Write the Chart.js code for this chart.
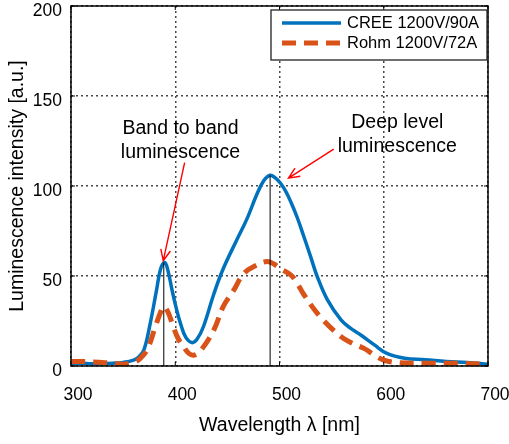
<!DOCTYPE html>
<html><head><meta charset="utf-8">
<script src="https://cdn.jsdelivr.net/npm/chart.js@4"></script>
<style>html,body{margin:0;padding:0;background:#fff}</style>
</head><body>
<canvas id="c" width="509" height="444"></canvas>
<script>
// ---- data ----
const creeWavelengths = [300,310,320,330,340,350,360,365,370,376,382,386,390,393,397,401,405,410,416,421,427,437,446,459,469,478,485,491,496,501,506,511,517,523,530,536,546,559,568,578,591,603,620,640,660,680,700];
const creeValues      = [1.5,1.5,1.2,1.2,1.5,2,3.3,5,9,23.7,42,54,57.5,53,42,32,23.7,16,13,15,21.8,40,54,70,82,95,103,106,104.5,101.5,97,91,82.5,72.5,60.5,50,36.7,25.6,21,17.2,11.7,7,4.3,3.5,2.5,2,1];
const rohmWavelengths = [300,310,320,330,340,350,360,366,373,381,386,389,393,398,403,408,413,418,425,437,446,456,466,478,488,495,501,511,517,523,539,559,570,581,590,600,615,640,670,700];
const rohmValues      = [2.5,2.5,2.3,2,1.5,1,2,4,9,22,30,33,30,22,15,10.7,7,6,9,20,33,42,51.5,56,58,56.5,54,50.5,46,40,27.4,16.3,12.5,9.8,6.5,3.3,1.8,1.5,1.5,1];
const peakWavelengths = [389, 491];
const peakValues = [57.5, 106];
const xTicks = [300,400,500,600,700];
const yTicks = [0,50,100,150,200];
const seriesLabels = ['CREE 1200V/90A','Rohm 1200V/72A'];
const annotationTexts = [['Band to band','luminescence'],['Deep level','luminescence']];
const annotationAt = [[405,132],[613,135]];      // data coords (wavelength, intensity)
const arrowFrom = [[409,113],[552,120.5]];
const arrowTo = [[388.5,58.5],[508.6,104.4]];

const FONT = "'Liberation Sans', Arial, sans-serif";
const BLUE = '#0072BD', ORANGE = '#D95319';

const pts = (xs, ys) => xs.map((w,i)=>({x:w,y:ys[i]}));

const peakSets = peakWavelengths.map((w,i)=>({
  label:'peak'+i, data:[{x:w,y:0},{x:w,y:peakValues[i]}],
  borderColor:'#000', borderWidth:1, pointRadius:0, tension:0, order:1
}));

const decor = {
  id:'decor',
  afterDatasetsDraw(chart){
    const {ctx, chartArea:ca, scales:{x,y}} = chart;
    ctx.save();
    ctx.strokeStyle='#000'; ctx.lineWidth=1;
    xTicks.forEach(v=>{const px=x.getPixelForValue(v);
      ctx.beginPath();ctx.moveTo(px,ca.bottom);ctx.lineTo(px,ca.bottom-4);
      ctx.moveTo(px,ca.top);ctx.lineTo(px,ca.top+4);ctx.stroke();});
    yTicks.forEach(v=>{const py=y.getPixelForValue(v);
      ctx.beginPath();ctx.moveTo(ca.left,py);ctx.lineTo(ca.left+4,py);
      ctx.moveTo(ca.right,py);ctx.lineTo(ca.right-4,py);ctx.stroke();});
    ctx.lineWidth=1.5; ctx.strokeStyle='#000';
    ctx.strokeRect(ca.left,ca.top,ca.right-ca.left,ca.bottom-ca.top);
    ctx.fillStyle='#000'; ctx.font='19.5px '+FONT; ctx.textAlign='center'; ctx.textBaseline='middle';
    annotationTexts.forEach((lines,i)=>{
      const px=x.getPixelForValue(annotationAt[i][0]);
      const py=y.getPixelForValue(annotationAt[i][1]);
      lines.forEach((t,j)=>ctx.fillText(t,px,py+j*24));
    });
    ctx.strokeStyle='#FF0000'; ctx.lineWidth=1.4; ctx.lineJoin='miter';
    arrowFrom.forEach((f,i)=>{
      const x1=x.getPixelForValue(f[0]), y1=y.getPixelForValue(f[1]);
      const x2=x.getPixelForValue(arrowTo[i][0]), y2=y.getPixelForValue(arrowTo[i][1]);
      const a=Math.atan2(y2-y1,x2-x1), L=12, h=0.42;
      ctx.beginPath();ctx.moveTo(x1,y1);ctx.lineTo(x2,y2);
      ctx.moveTo(x2-L*Math.cos(a-h),y2-L*Math.sin(a-h));ctx.lineTo(x2,y2);
      ctx.lineTo(x2-L*Math.cos(a+h),y2-L*Math.sin(a+h));ctx.stroke();
    });
    const bw=216,bh=50,bx=ca.right-1-bw,by=ca.top+4;
    ctx.fillStyle='#fff'; ctx.fillRect(bx,by,bw,bh);
    ctx.strokeStyle='#222'; ctx.lineWidth=1.3; ctx.strokeRect(bx,by,bw,bh);
    const dss=[chart.data.datasets[0],chart.data.datasets[1]];
    ctx.font='16.5px '+FONT; ctx.textAlign='left'; ctx.textBaseline='middle'; ctx.fillStyle='#000';
    dss.forEach((d,i)=>{
      const ly=by+13+i*20;
      ctx.strokeStyle=d.borderColor; ctx.lineWidth=d.borderWidth; ctx.setLineDash(d.borderDash||[]);
      ctx.beginPath();ctx.moveTo(bx+11,ly);ctx.lineTo(bx+70,ly);ctx.stroke();
      ctx.setLineDash([]);
      ctx.fillText(d.label,bx+76,ly);
    });
    ctx.restore();
  }
};

new Chart(document.getElementById('c'),{
  type:'line',
  data:{datasets:[
    {label:seriesLabels[0],data:pts(creeWavelengths,creeValues),borderColor:BLUE,borderWidth:3.5,pointRadius:0,tension:0.4,order:3},
    {label:seriesLabels[1],data:pts(rohmWavelengths,rohmValues),borderColor:ORANGE,borderWidth:5,borderDash:[14,8],borderCapStyle:'butt',pointRadius:0,tension:0.4,order:2},
    ...peakSets
  ]},
  options:{
    responsive:false, animation:false, devicePixelRatio:1,
    layout:{padding:{top:6,right:21,left:0,bottom:0}},
    plugins:{legend:{display:false},tooltip:{enabled:false}},
    scales:{
      x:{type:'linear',min:300,max:700,
        afterBuildTicks:(s)=>{s.ticks=xTicks.map(v=>({value:v}));},
        afterFit:(s)=>{s.height=78;s.paddingLeft=0;s.paddingRight=0;},
        ticks:{color:'#000',font:{family:FONT,size:17.5},padding:19,labelOffset:7,maxRotation:0},
        grid:{color:'rgba(40,40,40,0.85)',lineWidth:1.5,drawTicks:false},
        border:{display:false,dash:[2,3]},
        title:{display:true,text:'Wavelength λ [nm]',color:'#000',font:{family:FONT,size:19.5},padding:{bottom:7,top:0}}
      },
      y:{min:0,max:200,
        afterBuildTicks:(s)=>{s.ticks=yTicks.map(v=>({value:v}));},
        afterFit:(s)=>{s.width=71;s.paddingTop=0;s.paddingBottom=0;},
        ticks:{color:'#000',font:{family:FONT,size:17.5},padding:9,labelOffset:5},
        grid:{color:'rgba(40,40,40,0.85)',lineWidth:1.5,drawTicks:false},
        border:{display:false,dash:[2,3]},
        title:{display:true,text:'Luminescence intensity [a.u.]',color:'#000',font:{family:FONT,size:19.5},padding:{top:6,bottom:0}}
      }
    }
  },
  plugins:[decor]
});
</script>
</body></html>
